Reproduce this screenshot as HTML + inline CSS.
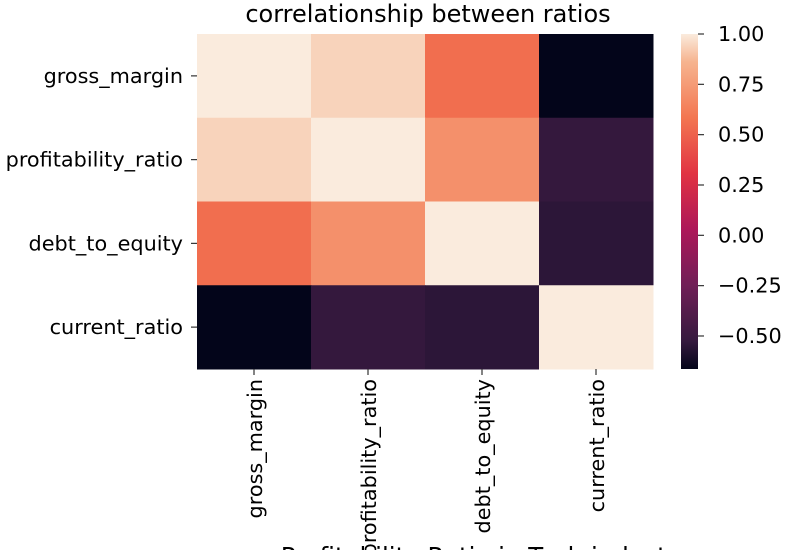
<!DOCTYPE html>
<html><head><meta charset="utf-8"><style>
body{margin:0;background:#fff}
svg{display:block;font-family:"DejaVu Sans","Liberation Sans",sans-serif}
</style></head><body>
<svg id="chart" width="795" height="550" viewBox="0 0 795 550">
<defs><linearGradient id="rocket" x1="0" y1="1" x2="0" y2="0"></linearGradient></defs>
<text x="428" y="22" font-size="24" text-anchor="middle" fill="#000">correlationship between ratios</text>
<g id="cells"></g><g id="axes"></g><g id="cbar"></g>
<text x="486" y="565" font-size="24.5" text-anchor="middle" fill="#000">Profitability Ratio in Tech industry</text>
</svg>
<script>
const labels = ["gross_margin","profitability_ratio","debt_to_equity","current_ratio"];
const row0 = [1.00, 0.94, 0.55, -0.664];
const row1 = [0.94, 1.00, 0.70, -0.53];
const row2 = [0.55, 0.70, 1.00, -0.55];
const row3 = [-0.664, -0.53, -0.55, 1.00];
const cbTicks = [1.00, 0.75, 0.50, 0.25, 0.00, -0.25, -0.50];
const cbTickLabels = ["1.00","0.75","0.50","0.25","0.00","\u22120.25","\u22120.50"];
const vmin = -0.664, vmax = 1.0;
const matrix = [row0,row1,row2,row3];
const NS="http://www.w3.org/2000/svg";
const stops=[[0,"#03051a"],[0.083,"#35193e"],[0.25,"#701f57"],[0.417,"#ad1759"],[0.583,"#e13342"],[0.75,"#f37651"],[0.917,"#f6b48f"],[1,"#faebdd"]];
function hex(h){return [1,3,5].map(i=>parseInt(h.substr(i,2),16));}
function cmap(v){let t=(v-vmin)/(vmax-vmin);t=Math.max(0,Math.min(1,t));
 for(let i=1;i<stops.length;i++){if(t<=stops[i][0]){const a=hex(stops[i-1][1]),b=hex(stops[i][1]);const f=(t-stops[i-1][0])/(stops[i][0]-stops[i-1][0]);
 return "rgb("+a.map((c,k)=>Math.round(c+(b[k]-c)*f)).join(",")+")";}}return stops[stops.length-1][1];}
const X0=197,X1=653,Y0=34,Y1=369;
const cw=(X1-X0)/labels.length, ch=(Y1-Y0)/labels.length;
const xs=i=>X0+i*cw, ys=j=>Y0+j*ch;
function mk(tag,attrs,parent){const e=document.createElementNS(NS,tag);for(const k in attrs)e.setAttribute(k,attrs[k]);parent.appendChild(e);return e;}
const cells=document.getElementById("cells"), axes=document.getElementById("axes"), cb=document.getElementById("cbar");
matrix.forEach((row,j)=>row.forEach((v,i)=>{
 const r=mk("rect",{x:xs(i),y:ys(j),width:cw+0.5,height:ch+0.5,fill:cmap(v)},cells);
 
 
}));
labels.forEach((l,j)=>{
 const y=ys(j)+ch/2;
 mk("line",{x1:X0-6,x2:X0,y1:y,y2:y,stroke:"#333","stroke-width":1.2},axes);
 const t=mk("text",{x:X0-14,y:y+7,"font-size":"20.8","text-anchor":"end",fill:"#000"},axes);t.textContent=l;
 
 
});
labels.forEach((l,i)=>{
 const x=xs(i)+cw/2;
 mk("line",{x1:x,x2:x,y1:Y1,y2:Y1+6,stroke:"#333","stroke-width":1.2},axes);
 const t=mk("text",{x:0,y:0,"font-size":"20.8","text-anchor":"end",fill:"#000",transform:"translate("+(x+8)+","+(Y1+10)+") rotate(-90)"},axes);t.textContent=l;
 
 
});
const g=document.getElementById("rocket");
stops.forEach(s=>mk("stop",{offset:s[0],"stop-color":s[1]},g));
const CX0=681,CX1=698;
const cy=v=>Y1-(v-vmin)/(vmax-vmin)*(Y1-Y0);
const bar=mk("rect",{x:CX0,y:Y0,width:CX1-CX0,height:Y1-Y0,fill:"url(#rocket)"},cb);


cbTicks.forEach((v,k)=>{
 const y=cy(v);
 mk("line",{x1:CX1,x2:CX1+6,y1:y,y2:y,stroke:"#333","stroke-width":1.2},cb);
 const t=mk("text",{x:CX1+20,y:y+7,"font-size":"20.8",fill:"#000"},cb);t.textContent=cbTickLabels[k];
 
 
});
</script>
</body></html>
